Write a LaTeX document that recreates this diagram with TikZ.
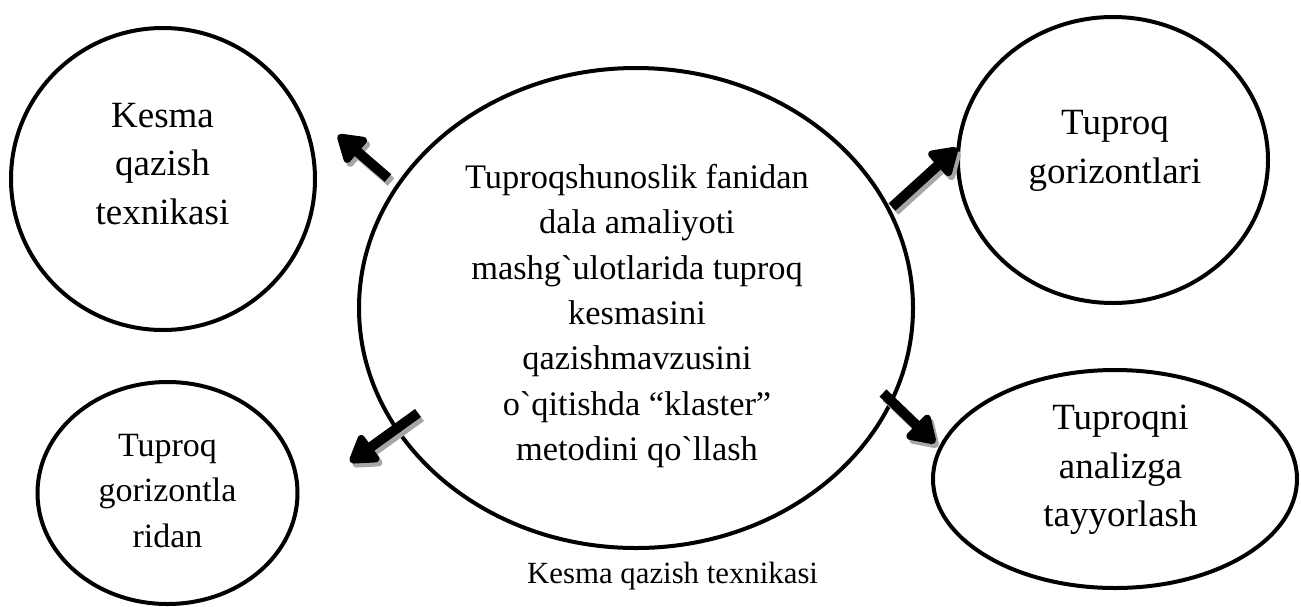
\documentclass[tikz,border=0pt]{standalone}
\usepackage{fontspec}
\setmainfont{Liberation Serif}[Ligatures=TeXOff]
\usetikzlibrary{shapes.geometric,arrows.meta}

\begin{document}
\begin{tikzpicture}[x=1pt,y=-1pt,
    blob/.style={ellipse, draw, line width=4pt, inner sep=0pt},
    txt/.style={align=center, inner sep=0pt},
    big/.style={font=\fontsize{37}{48.5}\selectfont},
    small/.style={font=\fontsize{34.4}{45.4}\selectfont},
    bigarrow/.style={line width=10pt, line join=round, -{Triangle[length=30pt,width=36pt,round]}},
    shadowarrow/.style={bigarrow, black!35}]
    \useasboundingbox (0,0) rectangle (1301,606);
    % ellipses
    \node[blob, minimum width=554, minimum height=480] (main) at (636,308) {};
    \node[blob, minimum width=304, minimum height=302] (kesma) at (163,179) {};
    \node[blob, minimum width=260, minimum height=222] (gorlar) at (167.5,493) {};
    \node[blob, minimum width=310, minimum height=286] (gorlari) at (1113,160) {};
    \node[blob, minimum width=364, minimum height=218] (analiz) at (1115,479) {};
    % texts
    \node[txt, small] (maintxt) at (637,316) {Tuproqshunoslik fanidan\\dala amaliyoti\\mashg`ulotlarida tuproq\\kesmasini\\qazishmavzusini\\o`qitishda “klaster”\\metodini qo`llash};
    \node[txt, big] (kesmatxt) at (162.5,164) {Kesma\\qazish\\texnikasi};
    \node[txt, font=\fontsize{34}{45.5}\selectfont] (gorlartxt) at (167.5,491) {Tuproq\\gorizontla\\ridan};
    \node[txt, big] (gorlaritxt) at (1115,151) {Tuproq\\gorizontlari};
    \node[txt, big] (analiztxt) at (1120.5,470) {Tuproqni\\analizga\\tayyorlash};
    \node[anchor=base west, inner sep=0pt, font=\fontsize{30.8}{36}\selectfont] (caption) at (527,583) {Kesma qazish texnikasi};
    % arrows
    \coordinate (k1) at (388,178); \coordinate (k2) at (338,135);
    \coordinate (g1) at (892,207); \coordinate (g2) at (957,148);
    \coordinate (r1) at (418,413); \coordinate (r2) at (350,462);
    \coordinate (a1) at (883,393); \coordinate (a2) at (935,443);
    \foreach \s/\e in {k1/k2, g1/g2, r1/r2, a1/a2} {
        \draw[shadowarrow] ([shift={(3,4)}]\s) -- ([shift={(3,4)}]\e);
        \draw[bigarrow] (\s) -- (\e);
    }
\end{tikzpicture}
\end{document}
